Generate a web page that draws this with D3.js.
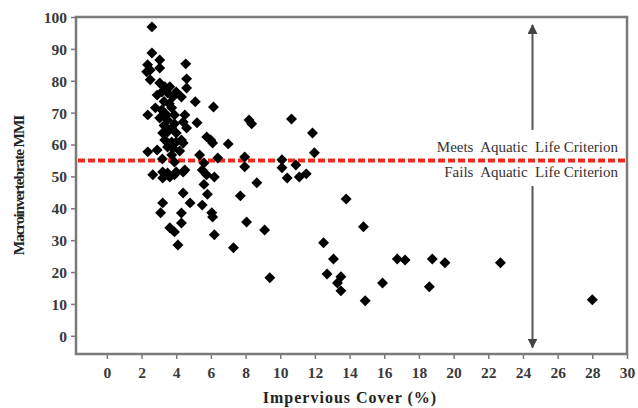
<!DOCTYPE html>
<html>
<head>
<meta charset="utf-8">
<script src="https://cdn.jsdelivr.net/npm/d3@7"></script>
<style>
  body { margin: 0; background: #fff; }
  svg text { font-family: "Liberation Serif", "DejaVu Serif", serif; }
</style>
</head>
<body>
<svg id="chart"></svg>
<script>
// impervious cover (%) and macroinvertebrate MMI per site
const impervious = [
    2.6, 2.6, 3.05, 4.55, 2.35, 2.5, 2.3, 3.05, 2.5, 4.6, 3.05, 3.34, 3.63, 3.17, 3.5, 4.0, 2.9, 3.8, 4.3, 4.6, 5.1,
    3.3, 3.6, 2.8, 3.17, 3.45, 3.74, 3.05, 3.5, 3.9, 4.5, 4.4, 2.36, 5.2,
    3.22, 3.5, 3.74, 4.0, 4.6, 3.34, 3.74, 4.0, 4.3, 3.5, 3.8, 4.4, 3.3, 3.9, 4.2, 3.2,
    2.36, 2.9, 3.74, 3.9, 5.35, 5.6, 2.65, 3.22, 4.0, 4.5, 3.63, 3.22, 3.5, 3.9, 4.4,
    6.15, 8.2, 8.35, 10.65, 11.86, 5.76, 5.99, 6.1, 7.0, 11.97, 6.4, 7.95, 7.95, 10.1, 10.1, 10.9,
    10.4, 11.1, 11.5, 5.5, 5.75, 6.2, 5.6, 5.8, 5.5, 8.65, 4.4, 7.7, 4.8, 6.05, 6.1, 4.3, 4.3, 8.06, 9.1,
    6.2, 7.3, 12.5, 13.07, 4.1, 3.22, 3.1, 3.63, 3.9,
    13.8, 14.8, 9.4, 12.7, 13.5, 13.3, 13.5, 14.9, 15.9, 16.75, 17.2, 18.77, 19.5, 18.6, 22.7, 28.0
];
const mmi = [
    96.9, 88.7, 86.5, 85.3, 85.0, 83.4, 82.8, 84.0, 80.3, 80.6, 79.3, 78.1, 78.1, 76.5, 76.2, 76.5, 75.5, 74.9, 74.9, 77.7, 73.4,
    73.5, 72.8, 71.5, 70.8, 69.3, 71.5, 68.3, 67.7, 69.3, 69.3, 67.1, 69.3, 66.8,
    63.6, 63.9, 65.2, 63.6, 65.2, 61.4, 60.8, 60.8, 61.4, 59.2, 58.9, 60.5, 66.0, 66.5, 58.0, 55.5,
    57.7, 58.3, 56.7, 54.5, 56.7, 54.2, 50.5, 51.4, 51.4, 52.0, 49.8, 49.5, 51.1, 50.5, 51.4,
    71.8, 67.7, 66.5, 68.0, 63.6, 62.4, 61.4, 60.5, 60.2, 57.4, 55.8, 56.1, 53.0, 55.2, 52.7, 53.6,
    49.5, 49.8, 50.8, 52.0, 50.5, 49.8, 47.5, 44.4, 41.0, 48.0, 44.8, 43.9, 41.7, 38.6, 37.3, 38.5, 35.4, 35.7, 33.2,
    31.7, 27.6, 29.2, 24.1, 28.5, 41.7, 38.6, 33.9, 32.6,
    42.9, 34.2, 18.2, 19.4, 18.5, 16.6, 14.1, 11.0, 16.6, 24.1, 23.8, 24.1, 22.9, 15.4, 22.9, 11.3
];
const xTicks = [0, 2, 4, 6, 8, 10, 12, 14, 16, 18, 20, 22, 24, 26, 28, 30];
const yTicks = [0, 10, 20, 30, 40, 50, 60, 70, 80, 90, 100];
const criterion = 55;
const arrowAt = 24.55;
const meetsLabel = "Meets  Aquatic  Life Criterion";
const failsLabel = "Fails  Aquatic  Life Criterion";

const width = 638, height = 408;
const margin = { top: 17, right: 11, bottom: 54, left: 76 };

const svg = d3.select('#chart')
    .attr('width', width)
    .attr('height', height);

const x = d3.scaleLinear()
    .domain([-1.78, 30])
    .range([margin.left, width - margin.right]);
const y = d3.scaleLinear()
    .domain([-5.7, 100])
    .range([height - margin.bottom, margin.top]);

const frame = '#7a7a7a';

// y axis
const yAxisG = svg.append('g')
    .attr('transform', `translate(${margin.left},0)`)
    .call(d3.axisLeft(y).tickValues(yTicks).tickSize(5).tickPadding(4));
yAxisG.select('.domain').remove();
yAxisG.selectAll('line').attr('stroke', frame).attr('stroke-width', 1.5);
yAxisG.selectAll('text')
    .attr('fill', '#3a3a3a')
    .attr('dy', '0.35em')
    .style('font-size', '15.5px')
    .style('font-weight', 'bold');

// x axis
const xAxisG = svg.append('g')
    .attr('transform', `translate(0,${height - margin.bottom})`)
    .call(d3.axisBottom(x).tickValues(xTicks).tickSize(5).tickPadding(8));
xAxisG.select('.domain').remove();
xAxisG.selectAll('line').attr('stroke', frame).attr('stroke-width', 1.5);
xAxisG.selectAll('text')
    .attr('fill', '#3a3a3a')
    .style('font-size', '15.5px')
    .style('font-weight', 'bold');

// plot frame
svg.append('rect')
    .attr('x', margin.left)
    .attr('y', margin.top)
    .attr('width', width - margin.left - margin.right)
    .attr('height', height - margin.top - margin.bottom)
    .attr('fill', 'none')
    .attr('stroke', frame)
    .attr('stroke-width', 2.5);

// criterion line
svg.append('line')
    .attr('x1', margin.left + 2).attr('x2', width - margin.right - 1)
    .attr('y1', y(criterion)).attr('y2', y(criterion))
    .attr('stroke', '#ee2a1e')
    .attr('stroke-width', 4)
    .attr('stroke-dasharray', '7,3');

// double arrow with gap for labels
svg.append('defs').append('marker')
    .attr('id', 'head')
    .attr('viewBox', '0 0 10 10')
    .attr('refX', 9).attr('refY', 5)
    .attr('markerWidth', 5).attr('markerHeight', 5)
    .attr('orient', 'auto')
    .append('path')
    .attr('d', 'M0,0 L10,5 L0,10 Z')
    .attr('fill', '#444');

svg.append('line')
    .attr('x1', x(arrowAt)).attr('x2', x(arrowAt))
    .attr('y1', y(64.6)).attr('y2', y(97.5))
    .attr('stroke', '#555').attr('stroke-width', 2)
    .attr('marker-end', 'url(#head)');
svg.append('line')
    .attr('x1', x(arrowAt)).attr('x2', x(arrowAt))
    .attr('y1', y(47)).attr('y2', y(-3.7))
    .attr('stroke', '#555').attr('stroke-width', 2)
    .attr('marker-end', 'url(#head)');

svg.append('text')
    .attr('x', 618).attr('y', y(criterion) - 8)
    .attr('text-anchor', 'end')
    .attr('fill', '#333')
    .style('font-size', '15px')
    .style('white-space', 'pre')
    .text(meetsLabel);
svg.append('text')
    .attr('x', 618).attr('y', y(criterion) + 17)
    .attr('text-anchor', 'end')
    .attr('fill', '#333')
    .style('font-size', '15px')
    .style('white-space', 'pre')
    .text(failsLabel);

// points
const diamond = d3.symbol().type(d3.symbolSquare).size(60);
svg.append('g')
    .selectAll('path')
    .data(impervious.map((d, i) => [d, mmi[i]]))
    .enter()
    .append('path')
    .attr('d', diamond)
    .attr('transform', d => `translate(${x(d[0])},${y(d[1])}) rotate(45)`)
    .attr('fill', '#000');

// axis titles
svg.append('text')
    .attr('transform', `translate(24,${(margin.top + height - margin.bottom) / 2}) rotate(-90)`)
    .attr('text-anchor', 'middle')
    .attr('fill', '#222')
    .style('font-size', '15.5px')
    .style('letter-spacing', '-1.2px')
    .style('font-weight', 'bold')
    .text('Macroinvertebrate MMI');
svg.append('text')
    .attr('x', 350).attr('y', 403)
    .attr('text-anchor', 'middle')
    .attr('fill', '#222')
    .style('font-size', '16px')
    .style('letter-spacing', '1px')
    .style('font-weight', 'bold')
    .text('Impervious Cover (%)');
</script>
</body>
</html>
